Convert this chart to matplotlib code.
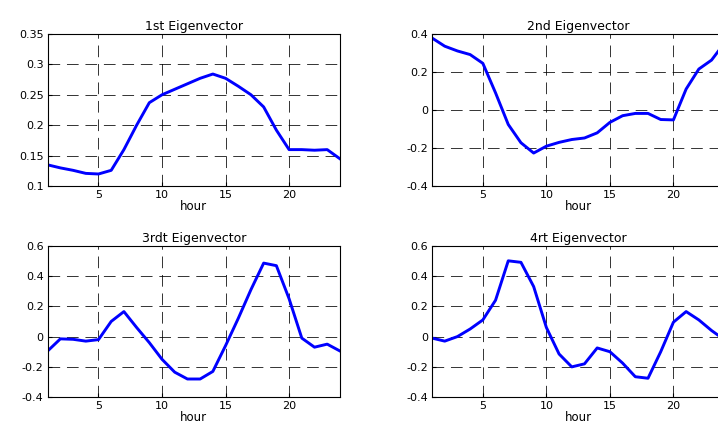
import matplotlib
matplotlib.use("Agg")
import matplotlib.pyplot as plt

plt.rcParams["font.family"] = ["DejaVu Sans"]

hours = list(range(1, 25))

eig1 = [0.135, 0.130, 0.126, 0.121, 0.120, 0.126, 0.160, 0.200, 0.237, 0.250,
        0.259, 0.268, 0.277, 0.284, 0.277, 0.264, 0.250, 0.230, 0.192, 0.160,
        0.160, 0.159, 0.160, 0.145]
eig2 = [0.378, 0.335, 0.310, 0.291, 0.245, 0.090, -0.076, -0.172, -0.226, -0.190,
        -0.170, -0.155, -0.147, -0.120, -0.065, -0.030, -0.018, -0.018, -0.050, -0.052,
        0.110, 0.215, 0.262, 0.350]
eig3 = [-0.095, -0.015, -0.018, -0.030, -0.020, 0.100, 0.165, 0.060, -0.040, -0.150,
        -0.235, -0.280, -0.280, -0.230, -0.060, 0.120, 0.310, 0.485, 0.468, 0.250,
        -0.010, -0.070, -0.050, -0.095]
eig4 = [-0.010, -0.030, 0.000, 0.050, 0.110, 0.240, 0.500, 0.490, 0.330, 0.060,
        -0.115, -0.200, -0.180, -0.075, -0.100, -0.175, -0.265, -0.275, -0.100, 0.095,
        0.165, 0.110, 0.040, -0.020]

titles = ["1st Eigenvector", "2nd Eigenvector", "3rdt Eigenvector", "4rt Eigenvector"]
series = [eig1, eig2, eig3, eig4]
ylims = [(0.1, 0.35), (-0.4, 0.4), (-0.4, 0.6), (-0.4, 0.6)]
yticks = [[0.1, 0.15, 0.2, 0.25, 0.3, 0.35],
          [-0.4, -0.2, 0, 0.2, 0.4],
          [-0.4, -0.2, 0, 0.2, 0.4, 0.6],
          [-0.4, -0.2, 0, 0.2, 0.4, 0.6]]
ytick_labels = [["0.1", "0.15", "0.2", "0.25", "0.3", "0.35"],
                ["-0.4", "-0.2", "0", "0.2", "0.4"],
                ["-0.4", "-0.2", "0", "0.2", "0.4", "0.6"],
                ["-0.4", "-0.2", "0", "0.2", "0.4", "0.6"]]

fig = plt.figure(figsize=(7.18, 4.28), dpi=100)
w, h = 0.407, 0.356
rects = [(0.0664, 0.565, w, h), (0.6017, 0.565, w, h),
         (0.0664, 0.072, w, 0.354), (0.6017, 0.072, w, 0.354)]

for rect, y, title, yl, yt, ytl in zip(rects, series, titles, ylims, yticks, ytick_labels):
    ax = fig.add_axes(rect)
    ax.plot(hours, y, color="#0000ff", linewidth=2.1)
    ax.set_xlim(1, 24)
    ax.set_ylim(*yl)
    ax.set_xticks([5, 10, 15, 20])
    ax.set_yticks(yt)
    ax.set_yticklabels(ytl)
    ax.grid(True, color="black", linestyle=(0, (12, 7)), linewidth=0.7, alpha=0.8)
    ax.tick_params(direction="in", length=3, labelsize=8, pad=3)
    ax.set_title(title, fontsize=9, pad=3)
    ax.set_xlabel("hour", fontsize=8.5, labelpad=0)
    for s in ax.spines.values():
        s.set_linewidth(0.8)

fig.savefig("out.png", dpi=100)
